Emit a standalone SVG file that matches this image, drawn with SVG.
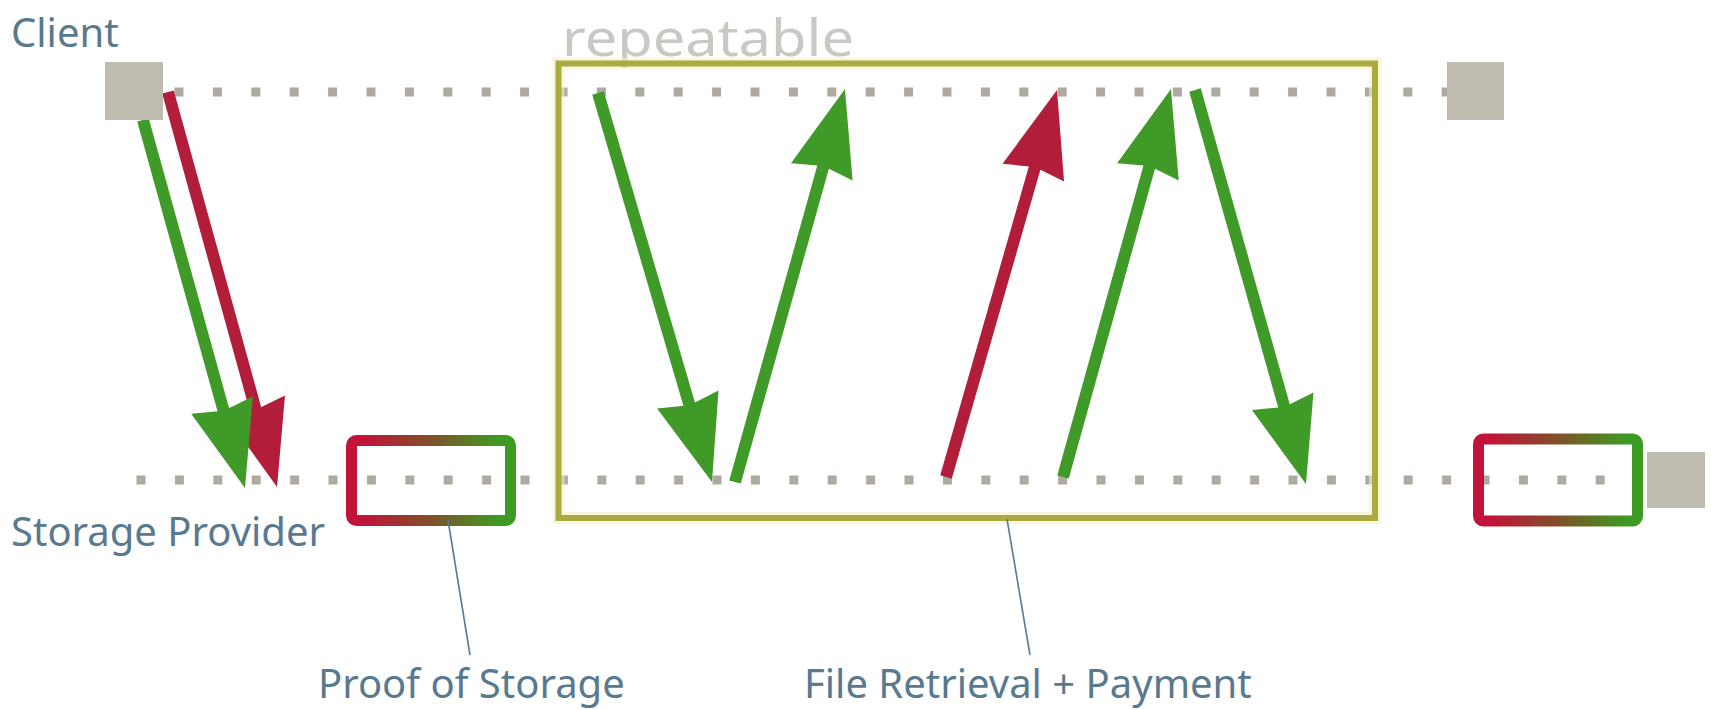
<svg xmlns="http://www.w3.org/2000/svg" width="1711" height="710" viewBox="0 0 1711 710">
  <style>
    .lbl { font-family: "Noto Sans", "Open Sans", sans-serif; font-size: 40px; fill: #587990; }
    .rep { font-family: "Noto Sans", "Open Sans", sans-serif; font-size: 51px; fill: #c9c8c3; }
    .life { fill: none; stroke: #aeaaa2; stroke-width: 9; stroke-dasharray: 9 29.4; }
    .actor { fill: #c0bbaf; }
    .g { fill: none; stroke: #3f9a28; stroke-width: 12; marker-end: url(#hg); }
    .r { fill: none; stroke: #b21e3a; stroke-width: 12; marker-end: url(#hr); }
    .lead { fill: none; stroke: #587990; stroke-width: 1.6; }
    .proof { fill: none; stroke: url(#grad); stroke-width: 11; }
  </style>
  <defs>
    <linearGradient id="grad" x1="0" y1="0" x2="1" y2="0">
      <stop offset="0.08" stop-color="#c2143a"/>
      <stop offset="0.5" stop-color="#80502a"/>
      <stop offset="0.92" stop-color="#3e9a22"/>
    </linearGradient>
    <marker id="hg" markerUnits="userSpaceOnUse" viewBox="-90 -36 95 72" refX="-70" refY="0" markerWidth="95" markerHeight="72" orient="auto">
      <path d="M0,0 L-86,-32 L-80,0 L-86,32 Z" fill="#3f9a28"/>
    </marker>
    <marker id="hr" markerUnits="userSpaceOnUse" viewBox="-90 -36 95 72" refX="-70" refY="0" markerWidth="95" markerHeight="72" orient="auto">
      <path d="M0,0 L-86,-32 L-80,0 L-86,32 Z" fill="#b21e3a"/>
    </marker>
  </defs>

  <g id="lifelines">
    <line class="life" x1="174.5" y1="92" x2="1447" y2="92"/>
    <line class="life" x1="136.5" y1="480" x2="1647" y2="480"/>
  </g>

  <g id="repeatable">
    <text class="rep" x="562" y="56" textLength="292" lengthAdjust="spacingAndGlyphs">repeatable</text>
    <rect x="558.5" y="63.5" width="816.5" height="454.5" fill="none" stroke="#f3f1c4" stroke-width="12" opacity="0.6"/>
    <rect x="558.5" y="63.5" width="816.5" height="454.5" fill="none" stroke="#aba942" stroke-width="6"/>
  </g>

  <g id="proof-left">
    <rect class="proof" x="351.5" y="440.5" width="159" height="80" rx="5"/>
  </g>
  <g id="proof-right">
    <rect class="proof" x="1478.5" y="439" width="159" height="82" rx="5"/>
  </g>

  <g id="connectors">
    <line class="r" x1="168" y1="92" x2="258.4" y2="419.5"/>
    <line class="g" x1="143" y1="120" x2="226.3" y2="420.5"/>
    <line class="g" x1="598" y1="93" x2="692.3" y2="414.8"/>
    <line class="g" x1="735" y1="482" x2="826.1" y2="156.4"/>
    <line class="r" x1="946" y1="477" x2="1037.7" y2="157.3"/>
    <line class="g" x1="1063" y1="477" x2="1152.2" y2="156.4"/>
    <line class="g" x1="1195" y1="90" x2="1287" y2="416.6"/>
    <line class="lead" x1="448" y1="520" x2="470" y2="655"/>
    <line class="lead" x1="1007" y1="519" x2="1030" y2="655"/>
  </g>

  <g id="client">
    <rect class="actor" x="105" y="62" width="58" height="58"/>
    <text class="lbl" x="11" y="47">Client</text>
  </g>
  <g id="client-end">
    <rect class="actor" x="1447" y="62" width="57" height="58"/>
  </g>
  <g id="storage-provider">
    <text class="lbl" x="11" y="546">Storage Provider</text>
  </g>
  <g id="provider-end">
    <rect class="actor" x="1647" y="452" width="58" height="56"/>
  </g>

  <g id="label-proof">
    <text class="lbl" x="318" y="698">Proof of Storage</text>
  </g>
  <g id="label-retrieval">
    <text class="lbl" x="804" y="698">File Retrieval + Payment</text>
  </g>
</svg>
